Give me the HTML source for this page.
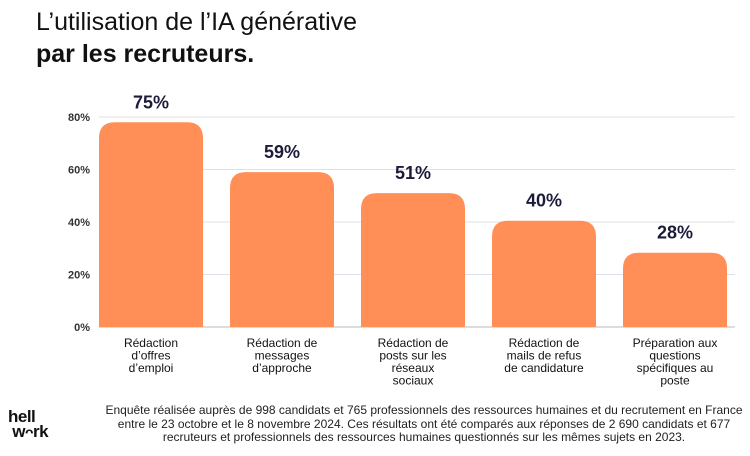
<!DOCTYPE html>
<html><head><meta charset="utf-8"><style>
body{margin:0;background:#fff;font-family:"Liberation Sans",sans-serif;}
#wrap{position:relative;width:750px;height:456px;overflow:hidden;}
.t{position:absolute;color:#111;}
</style></head><body>
<div id="wrap">
<div class="t" style="left:36px;top:8px;font-size:25px;">L’utilisation de l’IA générative</div>
<div class="t" style="left:36px;top:40px;font-size:25px;font-weight:bold;">par les recruteurs.</div>
<svg id="chart" width="750" height="456" style="position:absolute;left:0;top:0"></svg>
<div class="t" style="left:8px;top:409px;font-size:17px;font-weight:bold;line-height:15px;letter-spacing:-0.5px;">hell<br>&nbsp;w<span style="font-size:14px">ᴖ</span>rk</div>
<div class="t" style="left:100px;top:404px;width:648px;text-align:center;font-size:12px;line-height:13.5px;color:#222;white-space:nowrap;">Enquête réalisée auprès de 998 candidats et 765 professionnels des ressources humaines et du recrutement en France<br>entre le 23 octobre et le 8 novembre 2024. Ces résultats ont été comparés aux réponses de 2 690 candidats et 677<br>recruteurs et professionnels des ressources humaines questionnés sur les mêmes sujets en 2023.</div>
</div>
<script>
const categories=[["Rédaction","d’offres","d’emploi"],["Rédaction de","messages","d’approche"],["Rédaction de","posts sur les","réseaux","sociaux"],["Rédaction de","mails de refus","de candidature"],["Préparation aux","questions","spécifiques au","poste"]];
const values=[78,59,51,40.5,28.3];
const valueLabels=["75%","59%","51%","40%","28%"];
const yTicks=[0,20,40,60,80];
const NS="http://www.w3.org/2000/svg";
const svg=document.getElementById('chart');
const y0=327,yTop=117,yMax=80;
const y=v=>y0-(v/yMax)*(y0-yTop);
const x0=99,step=131,bw=104;
const x=i=>x0+i*step;
function mk(t,a){const e=document.createElementNS(NS,t);for(const k in a)e.setAttribute(k,a[k]);svg.appendChild(e);return e;}
yTicks.forEach(t=>{
 const l=mk('line',{x1:99,x2:735,y1:y(t),y2:y(t),stroke:t===0?'#bbb':'#dde0ea','stroke-width':1});
 
 
 const tx=mk('text',{x:90,y:y(t)+4,'text-anchor':'end','font-size':11,'font-weight':'bold','font-family':'Liberation Sans, sans-serif',fill:'#333'});
 tx.textContent=t+'%';
 
 
});
values.forEach((v,i)=>{
 const top=y(v),r=16;
 const p=mk('path',{d:`M${x(i)},${y0}V${top+r}Q${x(i)},${top} ${x(i)+r},${top}H${x(i)+bw-r}Q${x(i)+bw},${top} ${x(i)+bw},${top+r}V${y0}Z`,fill:'#FF8E57'});
 
 
 const vl=mk('text',{x:x(i)+bw/2,y:top-14,'text-anchor':'middle','font-size':18,'font-weight':'bold','font-family':'Liberation Sans, sans-serif',fill:'#1c1c3a'});
 vl.textContent=valueLabels[i];
 
 
 categories[i].forEach((ln,j)=>{
  const c=mk('text',{x:x(i)+bw/2,y:347+j*12.5,'text-anchor':'middle','font-size':12,'font-family':'Liberation Sans, sans-serif',fill:'#111'});
  c.textContent=ln;
  
  
 });
});
</script>
</body></html>
